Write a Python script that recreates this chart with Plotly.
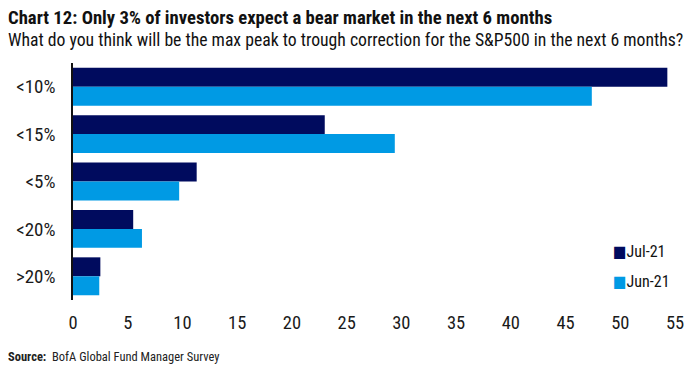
import plotly.graph_objects as go

categories = ["<10%", "<15%", "<5%", "<20%", ">20%"]
jul_21 = [54.3, 23.0, 11.3, 5.5, 2.5]
jun_21 = [47.4, 29.4, 9.7, 6.3, 2.4]
x_ticks = list(range(0, 56, 5))

NAVY = "#000B5E"
BLUE = "#009AE4"
FONT = "Roboto Condensed, DejaVu Sans Condensed, sans-serif"

fig = go.Figure()
fig.add_trace(go.Bar(y=categories, x=jul_21, name="Jul-21", orientation="h",
                     marker=dict(color=NAVY, line=dict(width=0))))
fig.add_trace(go.Bar(y=categories, x=jun_21, name="Jun-21", orientation="h",
                     marker=dict(color=BLUE, line=dict(width=0))))

# page body has an 8px margin; figure coords = screen coords - 8
OFF = 8
W, H = 692, 362
L, T = 73 - OFF, 63 - OFF
R = W - (675 - OFF)
B = H - (300 - OFF)
pw, ph = W - L - R, H - T - B

def px(x):
    return (x - OFF - L) / pw

def py(y):
    return (H - B - (y - OFF)) / ph

fig.update_layout(
    width=W, height=H,
    margin=dict(l=L, r=R, t=T, b=B, autoexpand=False),
    barmode="group", bargap=0.2, bargroupgap=0,
    plot_bgcolor="white", paper_bgcolor="white",
    showlegend=False,
    font=dict(family=FONT, color="#1a1a1a", size=16),
    xaxis=dict(range=[0, 55], tickvals=x_ticks, showgrid=False, zeroline=False,
               showline=False, ticks="outside", ticklen=6, tickcolor="rgba(0,0,0,0)",
               tickfont=dict(size=18.5, family=FONT), automargin=False),
    yaxis=dict(categoryorder="array", categoryarray=categories, autorange="reversed",
               showgrid=False, zeroline=False, showline=True, linecolor="#111",
               linewidth=1.5, ticks="outside", ticklen=12, tickcolor="rgba(0,0,0,0)",
               tickfont=dict(size=19, family=FONT), automargin=False),
    annotations=[
        dict(text="<b>Chart 12: Only 3% of investors expect a bear market in the next 6 months</b>",
             xref="paper", yref="paper", x=px(6), y=py(18.5), xanchor="left", yanchor="middle",
             showarrow=False, font=dict(size=18.7, family=FONT, color="#111")),
        dict(text="What do you think will be the max peak to trough correction for the S&P500 in the next 6 months?",
             xref="paper", yref="paper", x=px(6), y=py(40), xanchor="left", yanchor="middle",
             showarrow=False, font=dict(size=17.7, family=FONT, color="#111")),
        dict(text="<b>Source:</b>  BofA Global Fund Manager Survey",
             xref="paper", yref="paper", x=px(6), y=py(356), xanchor="left", yanchor="middle",
             showarrow=False, font=dict(size=12.5, family=FONT, color="#222")),
        dict(text=f"<span style='color:{NAVY}'>■</span>Jul-21",
             xref="paper", yref="paper", x=px(611), y=py(251), xanchor="left", yanchor="middle",
             showarrow=False, font=dict(size=16, family=FONT, color="#111")),
        dict(text=f"<span style='color:{BLUE}'>■</span>Jun-21",
             xref="paper", yref="paper", x=px(611), y=py(281), xanchor="left", yanchor="middle",
             showarrow=False, font=dict(size=16, family=FONT, color="#111")),
    ],
)

fig.write_html("out.html")
